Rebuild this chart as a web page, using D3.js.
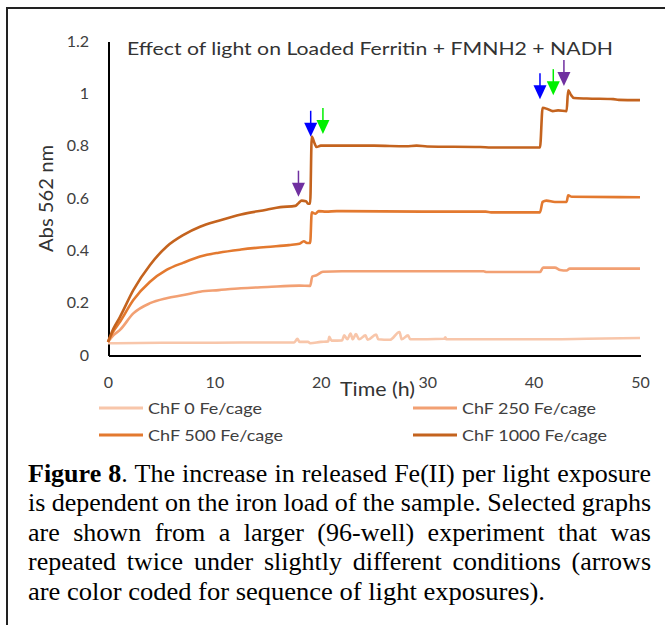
<!DOCTYPE html>
<html lang="en">
<head>
<meta charset="UTF-8">
<title>Figure 8 - Effect of light on Loaded Ferritin</title>
<style>
  body { margin: 0; background: #fff; }
  svg { display: block; }
  .axis path { stroke: #000; stroke-width: 2px; shape-rendering: crispEdges; }
  .axis text { font-family: Lato, sans-serif; font-size: 16px; fill: #404040; }
  .series { fill: none; stroke-width: 2.6px; stroke-linejoin: round; }
</style>
<script src="https://d3js.org/d3.v7.min.js"></script>
</head>
<body>
<svg width="665" height="625"></svg>
<script>
// each point: [time (h), Abs 562 nm]
const chf0 = [[0,0.045],[5,0.047],[10,0.047],[15,0.048],[17.5,0.048],[17.8,0.062],[18,0.05],[18.8,0.05],[19,0.045],
  [20,0.05],[20.7,0.052],[20.8,0.07],[21,0.055],[22,0.056],[22.2,0.075],[22.5,0.06],[22.8,0.082],[23,0.06],
  [23.3,0.08],[23.6,0.06],[24.2,0.075],[24.4,0.058],[25.2,0.078],[25.4,0.06],[26.5,0.058],[27.4,0.088],
  [27.6,0.06],[28.2,0.075],[28.4,0.06],[31.6,0.062],[31.7,0.068],[31.8,0.06],[40,0.06],[45,0.062],[50,0.065]];
const chf250 = [[0,0.05],[0.5,0.075],[1.13,0.096],[2.38,0.159],[3.95,0.198],[5.5,0.217],[7.1,0.229],[8.65,0.242],
  [10.4,0.248],[12.5,0.255],[15,0.26],[18,0.265],[19,0.264],[19.2,0.3],[19.6,0.305],[20.2,0.318],[22,0.32],
  [35.3,0.32],[35.6,0.317],[40.6,0.317],[40.9,0.334],[42,0.334],[42.5,0.325],[43.1,0.323],[43.4,0.33],[50,0.33]];
const chf500 = [[0,0.05],[0.5,0.09],[1.13,0.127],[2.38,0.21],[3.95,0.28],[5.5,0.325],[7.1,0.353],[8.65,0.376],
  [10.4,0.391],[12.5,0.403],[14.9,0.413],[17,0.42],[18,0.425],[18.4,0.435],[18.7,0.428],[19,0.428],[19.15,0.545],
  [19.5,0.54],[19.8,0.55],[20.5,0.548],[21.5,0.55],[30,0.548],[35.5,0.548],[36,0.545],[40.6,0.545],[40.85,0.585],
  [41.2,0.59],[42,0.585],[43.1,0.585],[43.25,0.61],[43.6,0.605],[50,0.603]];
const chf1000 = [[0,0.05],[0.5,0.1],[1.13,0.146],[2.38,0.248],[3.95,0.344],[5.5,0.414],[7.1,0.459],[8.65,0.49],
  [10.4,0.513],[12.5,0.537],[14.9,0.555],[16.2,0.565],[17.6,0.57],[17.9,0.58],[18.2,0.59],[18.6,0.588],[18.8,0.578],
  [19,0.578],[19.15,0.835],[19.4,0.81],[19.6,0.795],[20,0.8],[20.5,0.8],[25,0.8],[28,0.798],[29,0.8],[30,0.797],
  [35,0.795],[36,0.793],[40.6,0.793],[40.85,0.945],[41.3,0.94],[41.8,0.932],[42.3,0.935],[43.1,0.932],[43.25,1.012],
  [43.5,0.995],[43.8,0.982],[45,0.98],[47.5,0.978],[48,0.975],[50,0.974]];

const seriesData = [chf0, chf250, chf500, chf1000];
const seriesNames = ["ChF 0 Fe/cage", "ChF 250 Fe/cage", "ChF 500 Fe/cage", "ChF 1000 Fe/cage"];
const seriesColors = ["#F8C6AA", "#F2A073", "#E3792F", "#C4631E"];

const xTicks = [0, 10, 20, 30, 40, 50];
const yTicks = [0, 0.2, 0.4, 0.6, 0.8, 1, 1.2];

// light exposure arrows: time, absorbance at arrow tip
const arrowTimes = [17.9, 19.05, 20.2, 40.6, 41.85, 42.85];
const arrowTips = [0.605, 0.834, 0.845, 0.977, 0.993, 1.028];
const arrowColors = ["#7030A0", "#0000FF", "#00F000", "#0000FF", "#00F000", "#7030A0"];

const captionLines = [
  "Figure 8. The increase in released Fe(II) per light exposure",
  "is dependent on the iron load of the sample. Selected graphs",
  "are shown from a larger (96-well) experiment that was",
  "repeated twice under slightly different conditions (arrows",
  "are color coded for sequence of light exposures)."
];

const svg = d3.select("svg");

// frame lines (top and left)
svg.append("path")
  .attr("d", "M7,625V8H665")
  .attr("fill", "none")
  .attr("stroke", "#222")
  .attr("stroke-width", 2);

const x = d3.scaleLinear().domain([0, 50]).range([108, 640]);
const y = d3.scaleLinear().domain([0, 1.2]).range([355, 41]);

// axes
svg.append("g")
  .attr("class", "axis")
  .attr("transform", "translate(0,355)")
  .call(d3.axisBottom(x).tickValues(xTicks).tickSize(0).tickPadding(22).tickFormat(d3.format("")));

svg.append("g")
  .attr("class", "axis")
  .attr("transform", "translate(108,0)")
  .call(d3.axisLeft(y).tickValues(yTicks).tickSize(0).tickPadding(19).tickFormat(d3.format("")));

// series
const line = d3.line()
  .curve(d3.curveMonotoneX)
  .x(d => x(d[0]))
  .y(d => y(d[1]));

seriesData.forEach((data, i) => {
  svg.append("path")
    .datum(data)
    .attr("class", "series")
    .attr("stroke", seriesColors[i])
    .attr("d", line);
});

// arrows
arrowTimes.forEach((t, i) => {
  const ax = x(t), tip = y(arrowTips[i]);
  const g = svg.append("g").attr("fill", arrowColors[i]).attr("stroke", arrowColors[i]);
  g.append("line")
    .attr("x1", ax).attr("x2", ax)
    .attr("y1", tip - 26).attr("y2", tip - 12)
    .attr("stroke-width", 1.5);
  g.append("path")
    .attr("stroke", "none")
    .attr("d", `M${ax - 6.5},${tip - 14}L${ax + 6.5},${tip - 14}L${ax},${tip}Z`);
});

// title and axis titles
svg.append("text")
  .attr("x", 127).attr("y", 55)
  .attr("textLength", 486).attr("lengthAdjust", "spacingAndGlyphs")
  .style("font-family", "Lato, sans-serif").style("font-size", "18px").style("fill", "#333")
  .text("Effect of light on Loaded Ferritin + FMNH2 + NADH");

svg.append("text")
  .attr("transform", "translate(53,198.5) rotate(-90)")
  .attr("text-anchor", "middle")
  .attr("textLength", 107).attr("lengthAdjust", "spacingAndGlyphs")
  .style("font-family", "Lato, sans-serif").style("font-size", "19px").style("fill", "#333")
  .text("Abs 562 nm");

svg.append("text")
  .attr("x", 340).attr("y", 396)
  .attr("textLength", 75).attr("lengthAdjust", "spacingAndGlyphs")
  .style("font-family", "Lato, sans-serif").style("font-size", "19px").style("fill", "#333")
  .text("Time (h)");

// legend, two columns
const legendX = [99, 413];
const legendY = [408, 435];
const legendWidths = [114, 134, 135, 145];
seriesNames.forEach((name, i) => {
  const lx = legendX[i % 2], ly = legendY[Math.floor(i / 2)];
  svg.append("line")
    .attr("x1", lx).attr("x2", lx + 44)
    .attr("y1", ly).attr("y2", ly)
    .attr("stroke", seriesColors[i])
    .attr("stroke-width", 2.8);
  svg.append("text")
    .attr("x", lx + 49).attr("y", ly + 6)
    .attr("textLength", legendWidths[i]).attr("lengthAdjust", "spacingAndGlyphs")
    .style("font-family", "Lato, sans-serif").style("font-size", "16px").style("fill", "#404040")
    .text(name);
});

// caption, justified except last line
const caption = svg.append("g")
  .style("font-family", "'Liberation Serif', 'Times New Roman', serif")
  .style("font-size", "26px")
  .style("fill", "#000");

captionLines.forEach((str, i) => {
  const t = caption.append("text").attr("x", 28).attr("y", 481.5 + i * 29.5);
  if (i === 0) {
    t.append("tspan").style("font-weight", "bold").text("Figure 8");
    t.append("tspan").text(str.slice("Figure 8".length));
  } else {
    t.text(str);
  }
  if (i < captionLines.length - 1) {
    const natural = t.node().getComputedTextLength();
    const gaps = str.split(" ").length - 1;
    t.style("word-spacing", ((623 - natural) / gaps) + "px");
  } else {
    t.attr("textLength", 517).attr("lengthAdjust", "spacingAndGlyphs");
  }
});
</script>
</body>
</html>
